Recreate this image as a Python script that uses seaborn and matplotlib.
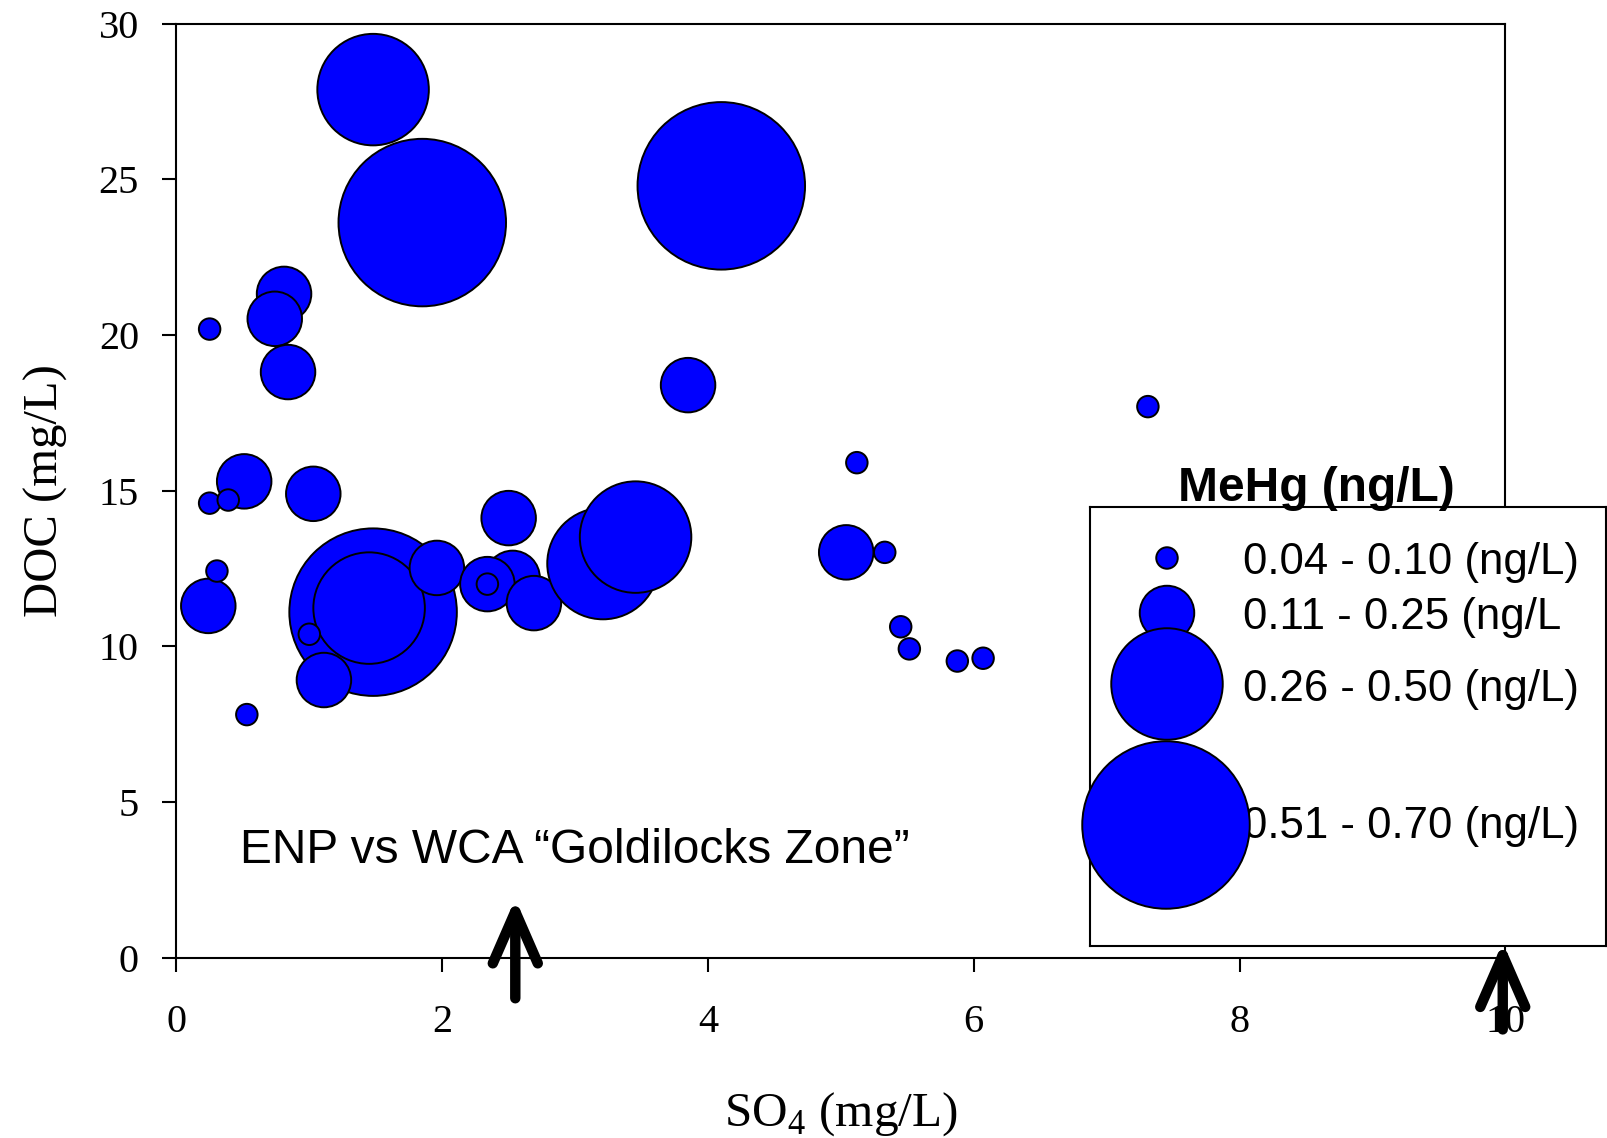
import pandas as pd
import matplotlib
matplotlib.use('Agg')
import matplotlib.pyplot as plt
import seaborn as sns

# MeHg classes (legend text kept as in the original, incl. the missing bracket)
mehg_classes = ['0.04 - 0.10', '0.11 - 0.25', '0.26 - 0.50', '0.51 - 0.70']
legend_labels = ['0.04 - 0.10 (ng/L)', '0.11 - 0.25 (ng/L', '0.26 - 0.50 (ng/L)', '0.51 - 0.70 (ng/L)']

# sites, listed in drawing order (later ones sit on top)
so4 = [1.48, 1.45, 1.00, 1.11, 1.96, 0.53, 0.24, 0.305, 0.51, 0.25, 0.39, 1.03,
       2.53, 2.34, 2.34, 2.69, 2.50, 3.21, 3.455, 1.48, 1.85, 4.10, 0.81, 0.74,
       0.25, 0.84, 3.85, 7.31, 5.12, 5.04, 5.33, 5.45, 5.515, 5.876, 6.07]
doc = [11.10, 11.23, 10.39, 8.92, 12.52, 7.81, 11.30, 12.42, 15.30, 14.60, 14.70, 14.90,
       12.20, 12.00, 12.00, 11.39, 14.12, 12.66, 13.51, 27.88, 23.61, 24.79, 21.32, 20.52,
       20.19, 18.81, 18.39, 17.70, 15.90, 13.02, 13.02, 10.63, 9.92, 9.53, 9.62]
mehg_idx = [3, 2, 0, 1, 1, 0, 1, 0, 1, 0, 0, 1,
            1, 1, 0, 1, 1, 2, 2, 2, 3, 3, 1, 1,
            0, 1, 1, 0, 0, 1, 0, 0, 0, 0, 0]

# arrows marking the "Goldilocks zone"
arrow_x = [2.55, 9.98]
arrow_tip = [1.9, 0.5]
arrow_base = [-1.3, -2.3]

df = pd.DataFrame({'so4': so4, 'doc': doc,
                   'mehg': [mehg_classes[i] for i in mehg_idx]})

# bubble diameters in pixels -> marker area in points^2
bubble_px = [23.5, 56.5, 113.5, 169.5]
size_map = {c: ((d - 2) * 0.72) ** 2 for c, d in zip(mehg_classes, bubble_px)}

sns.set_theme(style='ticks')
plt.rcParams['font.family'] = ['Liberation Serif', 'DejaVu Serif']
plt.rcParams['mathtext.fontset'] = 'custom'
plt.rcParams['mathtext.rm'] = 'Liberation Serif'
for key in ['text.color', 'axes.labelcolor', 'xtick.color', 'ytick.color', 'axes.edgecolor']:
    plt.rcParams[key] = 'black'

fig = plt.figure(figsize=(16.08, 11.38), dpi=100)
ax = fig.add_axes([176.4 / 1608, 1 - 957.8 / 1138, (1505.4 - 176.4) / 1608, (957.8 - 23.6) / 1138])

sns.scatterplot(data=df, x='so4', y='doc', size='mehg', sizes=size_map,
                size_order=mehg_classes, color='#0000ff', edgecolor='black',
                linewidth=1.4, alpha=1, legend=False, ax=ax, zorder=3)

ax.set_xlim(0, 10)
ax.set_ylim(0, 30)
ax.set_xticks(range(0, 11, 2))
ax.set_yticks(range(0, 31, 5))
for s in ax.spines.values():
    s.set_linewidth(1.5)
    s.set_color('black')
ax.tick_params(axis='both', direction='out', length=10, width=1.5, labelsize=29, colors='black')
ax.tick_params(axis='x', pad=23)
ax.tick_params(axis='y', pad=17)
ax.set_xlabel('SO$_4$ (mg/L)', fontsize=35.5, labelpad=36)
ax.set_ylabel('DOC (mg/L)', fontsize=35, labelpad=22)

ax.text(0.48, 3.03, 'ENP vs WCA \u201cGoldilocks Zone\u201d', family='Liberation Sans',
        fontsize=34.5, va='baseline', ha='left', zorder=5)

for xa, yt, yb in zip(arrow_x, arrow_tip, arrow_base):
    ax.annotate('', xy=(xa, yt), xytext=(xa, yb), annotation_clip=False, zorder=6,
                arrowprops=dict(arrowstyle='->,head_length=3.1,head_width=1.35', lw=7.5,
                                color='black', shrinkA=0, shrinkB=0,
                                capstyle='round', joinstyle='round'))

# legend box drawn by hand, in figure pixel units
lax = fig.add_axes([1090 / 1608, 1 - 946 / 1138, (1606 - 1090) / 1608, (946 - 507) / 1138], zorder=4)
lax.set_xlim(1090, 1606)
lax.set_ylim(946, 507)
lax.set_xticks([])
lax.set_yticks([])
lax.set_facecolor('white')
for s in lax.spines.values():
    s.set_linewidth(1.5)
    s.set_color('black')
lax.text(1178, 500.7, 'MeHg (ng/L)', family='Liberation Sans', fontweight='bold',
         fontsize=34.5, va='baseline', ha='left', clip_on=False)
leg_y = [558, 613, 684, 825]
text_base = [573.5, 628.5, 700.5, 837.5]
for lab, ty in zip(legend_labels, text_base):
    lax.text(1243, ty, lab, family='Liberation Sans', fontsize=31.5, va='baseline', ha='left', zorder=1)
lax.scatter([1167, 1167, 1167, 1166], leg_y, s=[size_map[c] for c in mehg_classes],
            color='#0000ff', edgecolor='black', linewidth=1.4, clip_on=False, zorder=3)

fig.savefig('out.png', dpi=100)
